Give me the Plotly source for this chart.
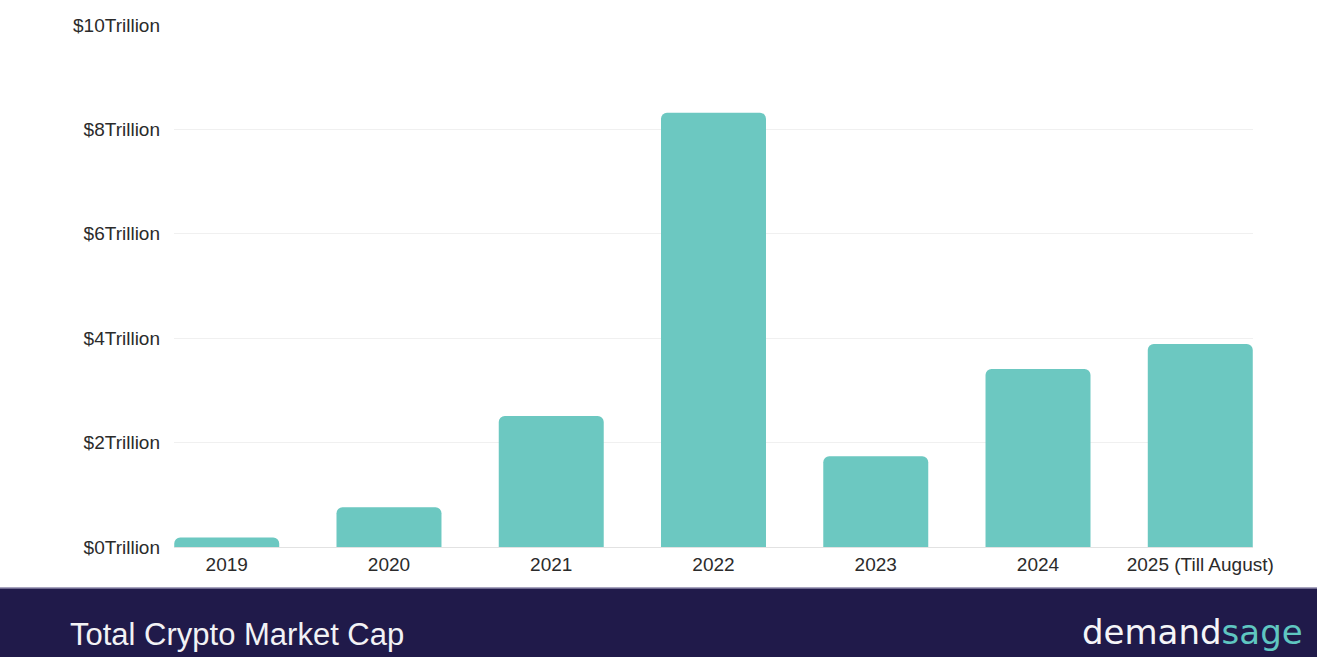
import plotly.graph_objects as go

years = ["2019", "2020", "2021", "2022", "2023", "2024", "2025 (Till August)"]
market_cap = [0.18, 0.76, 2.51, 8.32, 1.74, 3.41, 3.89]
tick_vals = [0, 2, 4, 6, 8, 10]
tick_text = ["$0Trillion", "$2Trillion", "$4Trillion", "$6Trillion", "$8Trillion", "$10Trillion"]

BAR = "#6cc8c1"
NAVY = "#201a4a"
FONT = "Liberation Sans, Arial, sans-serif"

fig = go.Figure()
fig.add_trace(go.Bar(
    x=years, y=market_cap,
    marker=dict(color=BAR, cornerradius=6, line=dict(width=0)),
    hoverinfo="x+y",
))

fig.update_layout(
    width=1317, height=657,
    margin=dict(l=174, r=64, t=25, b=110),
    paper_bgcolor="white", plot_bgcolor="white",
    bargap=0.353,
    showlegend=False,
    font=dict(family=FONT, color="#2b2b2b", size=19),
    xaxis=dict(
        type="category",
        range=[-0.325, 6.325],
        showgrid=False, showline=False, zeroline=False,
        ticks="", ticklabelstandoff=4,
        tickfont=dict(size=19, color="#2b2b2b", family=FONT),
    ),
    yaxis=dict(
        range=[0, 10],
        tickvals=tick_vals, ticktext=tick_text,
        showgrid=True, gridcolor="#f0f0f0", gridwidth=1,
        zeroline=True, zerolinecolor="#e2e2e2", zerolinewidth=1,
        showline=False, ticks="", ticklabelstandoff=13,
        tickfont=dict(size=19, color="#2b2b2b", family=FONT),
    ),
    shapes=[
        dict(type="rect", xref="paper", yref="paper",
             x0=-0.3, x1=1.2, y0=-0.26, y1=-0.0785,
             fillcolor=NAVY, line=dict(width=0), layer="above"),
        dict(type="line", xref="paper", yref="paper",
             x0=-0.3, x1=1.2, y0=-0.0785, y1=-0.0785,
             line=dict(color="#8a86a8", width=1.5), layer="above"),
    ],
    annotations=[
        dict(text="Total Crypto Market Cap", xref="paper", yref="paper",
             x=-0.0983, y=-0.1675, xanchor="left", yanchor="middle",
             showarrow=False, font=dict(size=31, color="#f2f2f5", family=FONT)),
        dict(text="demand<span style='color:#5fc6c1'>sage</span>", xref="paper", yref="paper",
             x=1.0485, y=-0.163, xanchor="right", yanchor="middle",
             showarrow=False, font=dict(size=34, color="#f5f5f8", family="DejaVu Sans, sans-serif")),
    ],
)

fig.write_html("out.html")
